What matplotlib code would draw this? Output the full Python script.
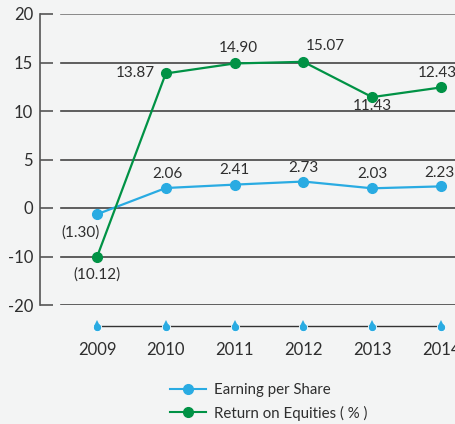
import numpy as np
import matplotlib
matplotlib.use('Agg')
import matplotlib.pyplot as plt
from matplotlib import font_manager

# data
years = ['2009', '2010', '2011', '2012', '2013', '2014']
eps = [-1.30, 2.06, 2.41, 2.73, 2.03, 2.23]
roe = [-10.12, 13.87, 14.90, 15.07, 11.43, 12.43]
eps_labels = ['(1.30)', '2.06', '2.41', '2.73', '2.03', '2.23']
roe_labels = ['(10.12)', '13.87', '14.90', '15.07', '11.43', '12.43']
yticks = [20, 15, 10, 5, 0, -10, -20]

# label offsets in pixels (dx, dy), purely placement
eps_off = [(-16, -18), (2, 14), (0, 15), (0, 14), (0, 14), (-2, 13)]
roe_off = [(0, -17), (-30, 0), (4, 15), (22, 16), (0, -9), (-4, 14)]

avail = {f.name for f in font_manager.fontManager.ttflist}
def pick(*names):
    for n in names:
        if n in avail:
            return n
    return 'DejaVu Sans'

body = pick('Lato', 'Open Sans', 'DejaVu Sans')
plt.rcParams['font.family'] = [body, 'DejaVu Sans']

text_c = '#2e2e2e'
blue = '#29abe2'
green = '#009245'

fig = plt.figure(figsize=(4.56, 4.24), dpi=100)
fig.patch.set_facecolor('#f3f4f4')

W, H = 456.0, 424.0
ax = fig.add_axes([40 / W, (H - 305) / H, 416 / W, 291 / H])
ax.set_facecolor('none')

# piecewise scale: 0..20 uses 5 per step, 0..-20 uses 10 per step
def fwd(y):
    y = np.asarray(y, dtype=float)
    return np.where(y >= 0, y / 5.0, y / 10.0)

def inv(p):
    p = np.asarray(p, dtype=float)
    return np.where(p >= 0, p * 5.0, p * 10.0)

ax.set_yscale('function', functions=(fwd, inv))
ax.set_ylim(-20, 20)
x = np.arange(len(years))
ax.set_xlim(-0.828, 5.218)

ax.set_yticks(yticks)
ax.set_yticklabels([str(t) for t in yticks], fontsize=12, color=text_c)
ax.yaxis.set_minor_locator(matplotlib.ticker.NullLocator())
ax.tick_params(axis='y', direction='in', length=9.5, width=1.2, color='#555555', pad=5)

for t in yticks:
    ax.axhline(t, xmin=21 / 416, xmax=1, color='#444444' if t != 20 else '#777777', lw=1.2, zorder=1)

for s in ['top', 'right', 'bottom']:
    ax.spines[s].set_visible(False)
ax.spines['left'].set_color('#555555')
ax.spines['left'].set_linewidth(1.2)
ax.set_xticks([])

ax.plot(x, eps, color=blue, lw=1.6, marker='o', ms=7, zorder=3, clip_on=False)
ax.plot(x, roe, color=green, lw=1.6, marker='o', ms=7, zorder=3, clip_on=False)

for xi, v, lab, (dx, dy) in zip(x, eps, eps_labels, eps_off):
    ax.annotate(lab, (xi, v), xytext=(dx * 0.72, dy * 0.72), textcoords='offset points',
                ha='center', va='center', fontsize=11, color=text_c, annotation_clip=False)
for xi, v, lab, (dx, dy) in zip(x, roe, roe_labels, roe_off):
    ax.annotate(lab, (xi, v), xytext=(dx * 0.72, dy * 0.72), textcoords='offset points',
                ha='center', va='center', fontsize=11, color=text_c, annotation_clip=False)

# lower year axis with droplet markers
tr = ax.get_xaxis_transform()
ax.plot(x, [-0.072] * len(x), transform=tr, color='#333333', lw=1.0, clip_on=False, zorder=2)
ax.plot(x, [-0.074] * len(x), transform=tr, ls='none', marker='o', ms=6,
        color=blue, mec='white', mew=0.6, clip_on=False, zorder=3)
ax.plot(x, [-0.062] * len(x), transform=tr, ls='none', marker='^', ms=5,
        color=blue, mec=blue, mew=0, clip_on=False, zorder=4)
for xi, yr in zip(x, years):
    ax.text(xi, -0.155, yr, transform=tr, ha='center', va='center',
            fontsize=12, color=text_c)

# legend
h1, = ax.plot([], [], color=blue, lw=1.5, marker='o', ms=7)
h2, = ax.plot([], [], color=green, lw=1.5, marker='o', ms=7)
leg = fig.legend([h1, h2], ['Earning per Share', 'Return on Equities ( % )'],
                 loc='center left', bbox_to_anchor=(163 / W, (H - 402) / H),
                 frameon=False, fontsize=10.8, handlelength=2.4, handletextpad=0.5,
                 labelspacing=0.55, borderpad=0)
for t in leg.get_texts():
    t.set_color(text_c)

fig.savefig('out.png', dpi=100, facecolor=fig.get_facecolor())
